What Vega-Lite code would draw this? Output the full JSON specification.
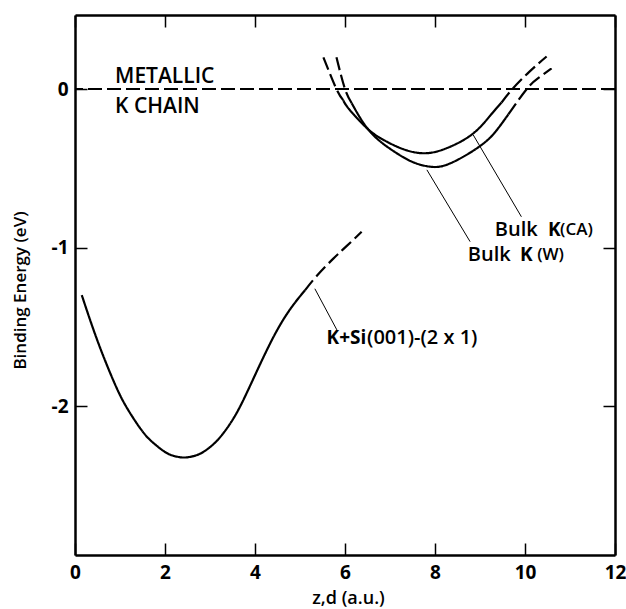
{
  "$schema": "https://vega.github.io/schema/vega-lite/v6.json",
  "width": 540,
  "height": 540,
  "autosize": {"type": "none"},
  "padding": {"left": 75, "top": 15, "right": 11, "bottom": 54},
  "background": "white",
  "config": {
    "view": {"stroke": null},
    "font": "Open Sans",
    "axis": {
      "grid": false,
      "domainColor": "black",
      "domainWidth": 2.5,
      "tickColor": "black",
      "tickWidth": 1.5,
      "tickSize": -12,
      "labelColor": "black",
      "labelFont": "Open Sans",
      "labelFontWeight": "bold",
      "labelFontSize": 19,
      "titleColor": "black",
      "titleFont": "Open Sans",
      "titleFontWeight": 600,
      "labelOverlap": false,
      "labelFlush": false
    }
  },
  "datasets": {
    "curves": [
      {"x": 0.15, "y": -1.30, "series": "KSi-solid", "dash": "solid"},
      {"x": 0.40, "y": -1.51, "series": "KSi-solid", "dash": "solid"},
      {"x": 0.65, "y": -1.70, "series": "KSi-solid", "dash": "solid"},
      {"x": 0.90, "y": -1.87, "series": "KSi-solid", "dash": "solid"},
      {"x": 1.15, "y": -2.01, "series": "KSi-solid", "dash": "solid"},
      {"x": 1.50, "y": -2.16, "series": "KSi-solid", "dash": "solid"},
      {"x": 1.75, "y": -2.235, "series": "KSi-solid", "dash": "solid"},
      {"x": 2.00, "y": -2.29, "series": "KSi-solid", "dash": "solid"},
      {"x": 2.20, "y": -2.315, "series": "KSi-solid", "dash": "solid"},
      {"x": 2.42, "y": -2.325, "series": "KSi-solid", "dash": "solid"},
      {"x": 2.65, "y": -2.315, "series": "KSi-solid", "dash": "solid"},
      {"x": 2.85, "y": -2.29, "series": "KSi-solid", "dash": "solid"},
      {"x": 3.08, "y": -2.24, "series": "KSi-solid", "dash": "solid"},
      {"x": 3.30, "y": -2.17, "series": "KSi-solid", "dash": "solid"},
      {"x": 3.60, "y": -2.04, "series": "KSi-solid", "dash": "solid"},
      {"x": 3.96, "y": -1.83, "series": "KSi-solid", "dash": "solid"},
      {"x": 4.40, "y": -1.57, "series": "KSi-solid", "dash": "solid"},
      {"x": 4.78, "y": -1.39, "series": "KSi-solid", "dash": "solid"},
      {"x": 5.11, "y": -1.27, "series": "KSi-solid", "dash": "solid"},
      {"x": 5.11, "y": -1.27, "series": "KSi-dash", "dash": "dashed"},
      {"x": 5.37, "y": -1.18, "series": "KSi-dash", "dash": "dashed"},
      {"x": 5.74, "y": -1.07, "series": "KSi-dash", "dash": "dashed"},
      {"x": 6.04, "y": -0.99, "series": "KSi-dash", "dash": "dashed"},
      {"x": 6.37, "y": -0.90, "series": "KSi-dash", "dash": "dashed"},

      {"x": 5.52, "y": 0.20, "series": "CA-dash1", "dash": "dashed"},
      {"x": 5.81, "y": 0.0, "series": "CA-dash1", "dash": "dashed"},
      {"x": 5.96, "y": -0.07, "series": "CA-dash1", "dash": "dashed"},
      {"x": 5.96, "y": -0.07, "series": "CA-solid", "dash": "solid"},
      {"x": 6.1, "y": -0.13, "series": "CA-solid", "dash": "solid"},
      {"x": 6.5, "y": -0.25, "series": "CA-solid", "dash": "solid"},
      {"x": 6.85, "y": -0.32, "series": "CA-solid", "dash": "solid"},
      {"x": 7.3, "y": -0.38, "series": "CA-solid", "dash": "solid"},
      {"x": 7.81, "y": -0.405, "series": "CA-solid", "dash": "solid"},
      {"x": 8.33, "y": -0.365, "series": "CA-solid", "dash": "solid"},
      {"x": 8.85, "y": -0.28, "series": "CA-solid", "dash": "solid"},
      {"x": 9.22, "y": -0.17, "series": "CA-solid", "dash": "solid"},
      {"x": 9.48, "y": -0.085, "series": "CA-solid", "dash": "solid"},
      {"x": 9.48, "y": -0.085, "series": "CA-dash2", "dash": "dashed"},
      {"x": 9.72, "y": 0.0, "series": "CA-dash2", "dash": "dashed"},
      {"x": 10.1, "y": 0.11, "series": "CA-dash2", "dash": "dashed"},
      {"x": 10.48, "y": 0.205, "series": "CA-dash2", "dash": "dashed"},

      {"x": 5.81, "y": 0.20, "series": "W-dash1", "dash": "dashed"},
      {"x": 6.0, "y": 0.0, "series": "W-dash1", "dash": "dashed"},
      {"x": 6.15, "y": -0.09, "series": "W-dash1", "dash": "dashed"},
      {"x": 6.15, "y": -0.09, "series": "W-solid", "dash": "solid"},
      {"x": 6.56, "y": -0.27, "series": "W-solid", "dash": "solid"},
      {"x": 7.07, "y": -0.39, "series": "W-solid", "dash": "solid"},
      {"x": 7.5, "y": -0.46, "series": "W-solid", "dash": "solid"},
      {"x": 7.89, "y": -0.49, "series": "W-solid", "dash": "solid"},
      {"x": 8.33, "y": -0.47, "series": "W-solid", "dash": "solid"},
      {"x": 9.0, "y": -0.36, "series": "W-solid", "dash": "solid"},
      {"x": 9.37, "y": -0.26, "series": "W-solid", "dash": "solid"},
      {"x": 9.63, "y": -0.16, "series": "W-solid", "dash": "solid"},
      {"x": 9.63, "y": -0.16, "series": "W-dash2", "dash": "dashed"},
      {"x": 10.04, "y": 0.0, "series": "W-dash2", "dash": "dashed"},
      {"x": 10.3, "y": 0.07, "series": "W-dash2", "dash": "dashed"},
      {"x": 10.59, "y": 0.13, "series": "W-dash2", "dash": "dashed"}
    ],
    "leaders": [
      {"x": 5.33, "y": -1.26, "x2": 5.82, "y2": -1.52},
      {"x": 8.85, "y": -0.29, "x2": 9.92, "y2": -0.806},
      {"x": 7.82, "y": -0.51, "x2": 8.78, "y2": -0.963}
    ],
    "zero": [{"y": 0}]
  },
  "layer": [
    {
      "data": {"name": "zero"},
      "mark": {"type": "rule", "color": "black", "strokeWidth": 2, "strokeDash": [14, 5]},
      "encoding": {
        "y": {"field": "y", "type": "quantitative", "scale": {"domain": [-2.94, 0.467], "nice": false, "zero": false}, "axis": null}
      }
    },
    {
      "data": {"name": "curves"},
      "mark": {"type": "line", "color": "black", "strokeWidth": 2.2, "interpolate": "natural"},
      "encoding": {
        "x": {"field": "x", "type": "quantitative", "scale": {"domain": [0, 12], "nice": false},
          "axis": {"orient": "bottom", "values": [0, 2, 4, 6, 8, 10, 12], "labelPadding": 20, "title": "z,d (a.u.)", "titleFontSize": 18, "titleX": 273, "titleY": 34, "titleBaseline": "top"}},
        "y": {"field": "y", "type": "quantitative", "scale": {"domain": [-2.94, 0.467], "nice": false, "zero": false},
          "axis": {"orient": "left", "values": [0, -1, -2], "labelPadding": 19, "labelExpr": "datum.value == 0 ? '0' : '-' + abs(datum.value)", "title": "Binding Energy (eV)", "titleFontSize": 17, "titleX": -55, "titleY": 275, "titleBaseline": "middle"}},
        "detail": {"field": "series"},
        "strokeDash": {"field": "dash", "type": "nominal", "scale": {"domain": ["solid", "dashed"], "range": [[1, 0], [13, 5]]}, "legend": null}
      }
    },
    {
      "data": {"name": "leaders"},
      "mark": {"type": "rule", "color": "black", "strokeWidth": 1},
      "encoding": {
        "x": {"field": "x", "type": "quantitative", "axis": {"orient": "top", "values": [0, 2, 4, 6, 8, 10, 12], "labels": false, "title": null}},
        "y": {"field": "y", "type": "quantitative", "axis": {"orient": "right", "values": [0, -1, -2], "labels": false, "title": null}},
        "x2": {"field": "x2"},
        "y2": {"field": "y2"}
      }
    },
    {
      "data": {"values": [{"x": 0.89, "y": 0.076, "t": "METALLIC"}, {"x": 0.89, "y": -0.114, "t": "K CHAIN"}]},
      "mark": {"type": "text", "align": "left", "baseline": "middle", "fontSize": 21, "fontWeight": 600, "color": "black"},
      "encoding": {
        "x": {"field": "x", "type": "quantitative", "axis": null},
        "y": {"field": "y", "type": "quantitative", "axis": null},
        "text": {"field": "t"}
      }
    },
    {
      "data": {"values": [{"x": 5.59, "y": -1.573, "t": "K+Si"}, {"x": 10.51, "y": -0.89, "t": "K"}, {"x": 9.89, "y": -1.047, "t": "K"}]},
      "mark": {"type": "text", "align": "left", "baseline": "middle", "fontSize": 19, "fontWeight": "bold", "color": "black"},
      "encoding": {
        "x": {"field": "x", "type": "quantitative", "axis": null},
        "y": {"field": "y", "type": "quantitative", "axis": null},
        "text": {"field": "t"}
      }
    },
    {
      "data": {"values": [{"x": 6.49, "y": -1.573, "t": "(001)-(2 x 1)"}, {"x": 9.33, "y": -0.89, "t": "Bulk"}, {"x": 8.73, "y": -1.047, "t": "Bulk"}]},
      "mark": {"type": "text", "align": "left", "baseline": "middle", "fontSize": 20, "fontWeight": 600, "color": "black"},
      "encoding": {
        "x": {"field": "x", "type": "quantitative", "axis": null},
        "y": {"field": "y", "type": "quantitative", "axis": null},
        "text": {"field": "t"}
      }
    },
    {
      "data": {"values": [{"x": 10.78, "y": -0.89, "t": "(CA)"}, {"x": 10.27, "y": -1.047, "t": "(W)"}]},
      "mark": {"type": "text", "align": "left", "baseline": "middle", "fontSize": 17, "fontWeight": 600, "color": "black"},
      "encoding": {
        "x": {"field": "x", "type": "quantitative", "axis": null},
        "y": {"field": "y", "type": "quantitative", "axis": null},
        "text": {"field": "t"}
      }
    }
  ],
  "resolve": {"axis": {"x": "independent", "y": "independent"}}
}
